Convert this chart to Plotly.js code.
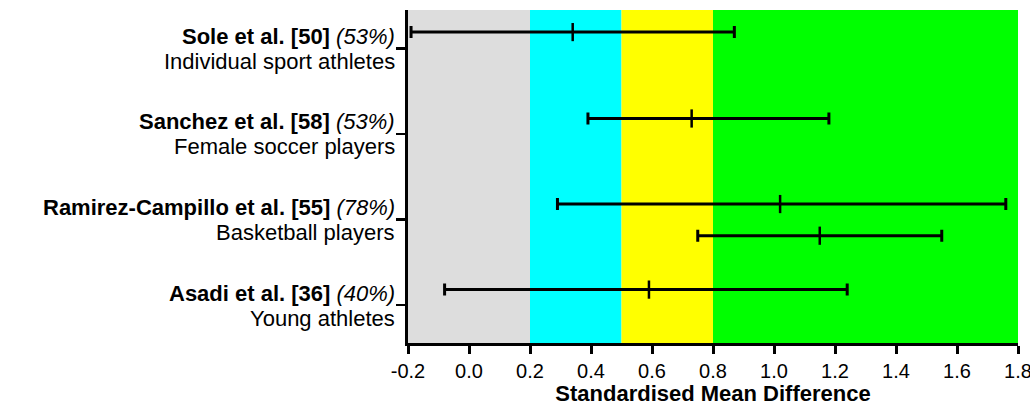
<!DOCTYPE html>
<html>
<head>
<meta charset="utf-8">
<script src="https://cdn.plot.ly/plotly-3.0.1.min.js"></script>
<style>html,body{margin:0;padding:0;background:#fff;}#chart{width:1030px;height:406px;}</style>
</head>
<body>
<div id="chart"></div>
<script>
// Study rows (tick positions on y axis, top to bottom)
const studyNames = ["Sole et al. [50]", "Sanchez et al. [58]", "Ramirez-Campillo et al. [55]", "Asadi et al. [36]"];
const studyPct = ["(53%)", "(53%)", "(78%)", "(40%)"];
const studyGroups = ["Individual sport athletes", "Female soccer players", "Basketball players", "Young athletes"];
const studyRows = [4, 3, 2, 1];

// Effect estimates (SMD) with confidence limits
const effectRow = [4.19, 3.18, 2.18, 1.81, 1.18];
const effectMean = [0.34, 0.73, 1.02, 1.15, 0.59];
const effectLow = [-0.19, 0.39, 0.29, 0.75, -0.08];
const effectHigh = [0.87, 1.18, 1.76, 1.55, 1.24];

// Effect-size bands
const bandStart = [-0.2, 0.2, 0.5, 0.8];
const bandEnd = [0.2, 0.5, 0.8, 1.8];
const bandColor = ["#dddddd", "#00ffff", "#ffff00", "#00ff00"];

const xTicks = [-0.2, 0.0, 0.2, 0.4, 0.6, 0.8, 1.0, 1.2, 1.4, 1.6, 1.8];

const trace = {
  type: "scatter",
  mode: "markers",
  x: effectMean,
  y: effectRow,
  marker: {symbol: "line-ns", size: 13, color: "#000", line: {color: "#000", width: 2.5}},
  error_x: {
    type: "data",
    symmetric: false,
    array: effectHigh.map((h, i) => h - effectMean[i]),
    arrayminus: effectMean.map((m, i) => m - effectLow[i]),
    color: "#000",
    thickness: 3,
    width: 6
  },
  cliponaxis: false,
  hoverinfo: "skip",
  showlegend: false
};

const shapes = bandStart.map((s, i) => ({
  type: "rect", xref: "x", yref: "paper", x0: s, x1: bandEnd[i], y0: 0, y1: 1,
  fillcolor: bandColor[i], line: {width: 0}, layer: "below"
}));

const labelFont = {family: "Liberation Sans, Arial, sans-serif", size: 22, color: "#000"};
const annotations = [];
studyRows.forEach((r, i) => {
  annotations.push({
    xref: "paper", yref: "y", x: 0, y: r, xanchor: "right", yanchor: "middle",
    xshift: -12, yshift: 12, borderpad: 0, showarrow: false, font: labelFont,
    text: "<b>" + studyNames[i] + "</b> <i>" + studyPct[i] + "</i>"
  });
  annotations.push({
    xref: "paper", yref: "y", x: 0, y: r, xanchor: "right", yanchor: "middle",
    xshift: -12, yshift: -13, borderpad: 0, showarrow: false, font: labelFont,
    text: studyGroups[i]
  });
});

const layout = {
  width: 1030, height: 406,
  margin: {l: 408, r: 12, t: 10, b: 63},
  paper_bgcolor: "#fff",
  plot_bgcolor: "#fff",
  font: {family: "Liberation Sans, Arial, sans-serif", color: "#000"},
  shapes: shapes,
  annotations: annotations,
  xaxis: {
    range: [-0.2, 1.8],
    tickvals: xTicks,
    ticktext: xTicks.map(v => v.toFixed(1)),
    ticklabeloverflow: "allow",
    showgrid: false, zeroline: false,
    showline: true, linecolor: "#000", linewidth: 3,
    ticks: "outside", ticklen: 8, tickwidth: 3, tickcolor: "#000",
    tickfont: {size: 20, color: "#000"},
    title: {text: "<b>Standardised Mean Difference</b>", font: {size: 22, color: "#000"}, standoff: 10},
    layer: "above traces"
  },
  yaxis: {
    range: [0.556, 4.448],
    tickvals: studyRows,
    showticklabels: false,
    showgrid: false, zeroline: false,
    showline: true, linecolor: "#000", linewidth: 3,
    ticks: "outside", ticklen: 9, tickwidth: 2.5, tickcolor: "#000",
    layer: "above traces"
  }
};

Plotly.newPlot("chart", [trace], layout, {staticPlot: true, displayModeBar: false});
</script>
</body>
</html>
